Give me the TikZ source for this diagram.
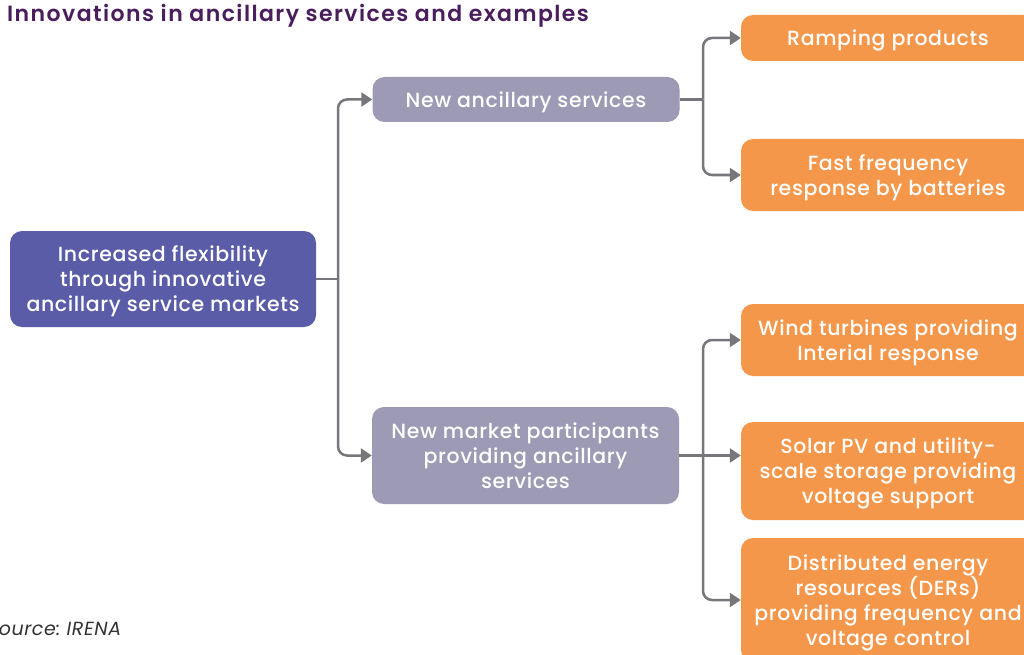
\documentclass[tikz,border=0pt]{standalone}
\usepackage{fontspec}
\setmainfont{Poppins Medium}[LetterSpace=3]
\newfontfamily\titlefont{Poppins SemiBold}[LetterSpace=6.5]
\newfontfamily\sourcefont{Poppins}[LetterSpace=3]
\usetikzlibrary{arrows.meta}
\definecolor{titlepurple}{HTML}{4A1D5C}
\definecolor{rootblue}{HTML}{5B5CA8}
\definecolor{midgrey}{HTML}{9C9AB4}
\definecolor{exorange}{HTML}{F5974A}
\definecolor{linegrey}{HTML}{76777A}
\definecolor{srcgrey}{HTML}{333333}
\tikzset{
  box/.style = {align=center, inner sep=0pt, rounded corners=12pt, text=white,
    text depth=0pt, font=\fontsize{20.5}{25}\selectfont},
  rootbox/.style = {box, fill=rootblue, minimum width=306pt, minimum height=96pt},% start of the tree
  midbox/.style = {box, fill=midgrey, minimum width=307pt},% kinds of innovation
  exbox/.style = {box, fill=exorange, minimum width=294pt},% examples
  link/.style = {draw=linegrey, line width=2.5pt},
  linkarrow/.style = {link, rounded corners=9pt, -{Triangle[length=11pt,width=14pt]}}
}

\begin{document}
\begin{tikzpicture}[x=1pt, y=-1pt]
  \useasboundingbox (0,0) rectangle (1024,655);
  \fill[white] (0,0) rectangle (1024,655);
  \clip (0,0) rectangle (1024,655);

  \node[anchor=base west, inner sep=0pt, text=titlepurple, font=\fontsize{22}{26}\selectfont\titlefont]
    (title) at (7,22) {Innovations in ancillary services and examples};

  \node[rootbox] (root) at (163,279) {Increased flexibility\\through innovative\\ancillary service markets};

  \node[midbox, minimum height=45pt] (mid1) at (526,99.5) {New ancillary services};
  \node[midbox, minimum height=97pt] (mid2) at (525.5,455.5) {New market participants\\providing ancillary\\services};

  \node[exbox, minimum height=46pt]  (ex1) at (888,38)  {Ramping products};
  \node[exbox, minimum height=72pt]  (ex2) at (888,175) {Fast frequency\\response by batteries};
  \node[exbox, minimum height=72pt]  (ex3) at (888,340) {Wind turbines providing\\Interial response};
  \node[exbox, minimum height=98pt]  (ex4) at (888,471) {Solar PV and utility-\\scale storage providing\\voltage support};
  \node[exbox, minimum height=124pt] (ex5) at (888,600) {Distributed energy\\resources (DERs)\\providing frequency and\\voltage control};

  \node[anchor=base west, inner sep=0pt, text=srcgrey, font=\fontsize{19}{22}\selectfont\sourcefont\itshape\frenchspacing]
    (source) at (-13,635) {Source: IRENA};

  % forks
  \coordinate (fork1) at (338,279);
  \coordinate (fork2) at (703,99.5);
  \coordinate (fork3) at (703,455.5);

  \draw[link] (root.east) -- (fork1);
  \draw[linkarrow] (fork1) |- (mid1.west);
  \draw[linkarrow] (fork1) |- (mid2.west);

  \draw[link] (mid1.east) -- (fork2);
  \draw[linkarrow] (fork2) |- (ex1.west);
  \draw[linkarrow] (fork2) |- (ex2.west);

  \draw[linkarrow] (mid2.east) -- (mid2.east -| ex4.west);
  \draw[linkarrow] (fork3) |- (ex3.west);
  \draw[linkarrow] (fork3) |- (ex5.west);
\end{tikzpicture}
\end{document}
